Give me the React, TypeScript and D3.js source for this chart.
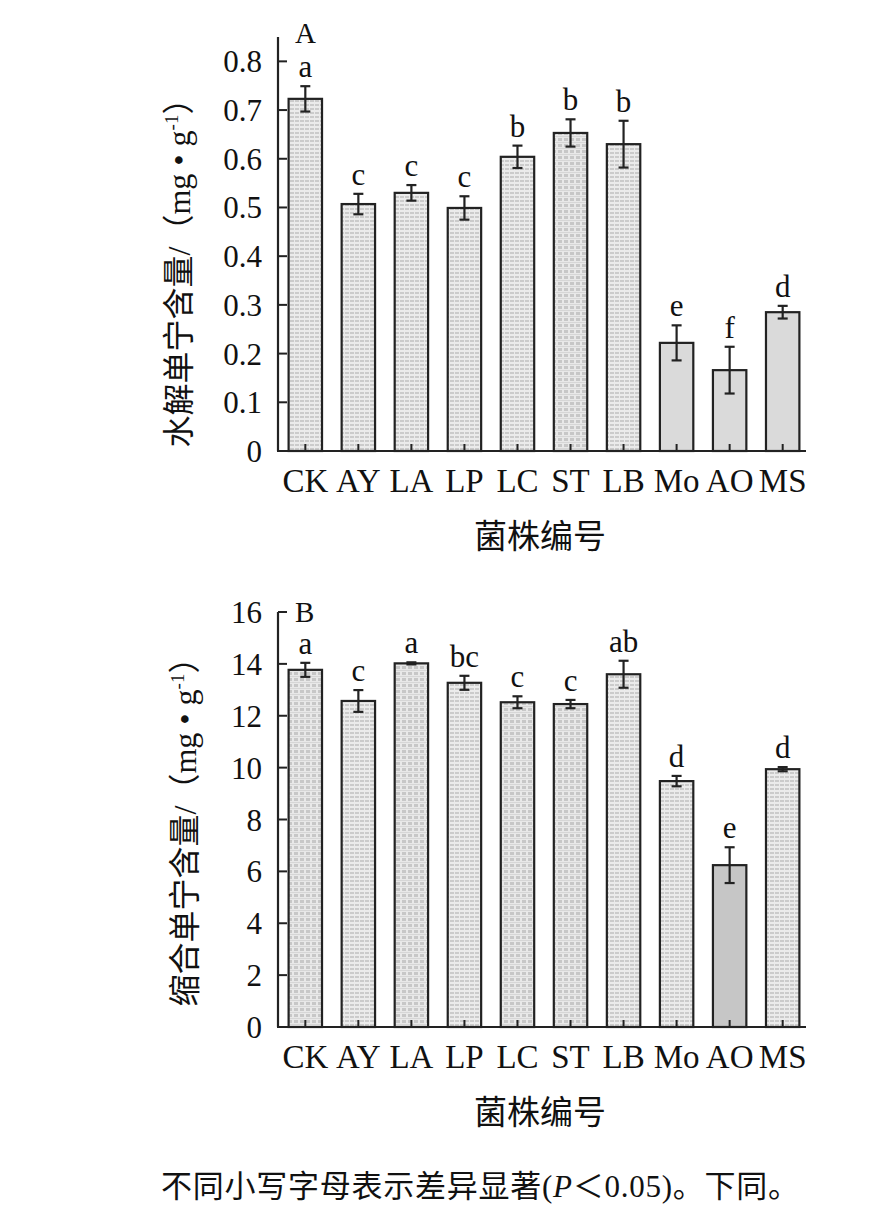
import * as d3 from "d3";

const strains = ["CK", "AY", "LA", "LP", "LC", "ST", "LB", "Mo", "AO", "MS"];

// 水解单宁 (mg·g-1)
const hydroMean = [0.723, 0.507, 0.53, 0.499, 0.604, 0.653, 0.63, 0.222, 0.166, 0.285];
const hydroErr = [0.026, 0.021, 0.016, 0.024, 0.023, 0.028, 0.048, 0.036, 0.048, 0.013];
const hydroSig = ["a", "c", "c", "c", "b", "b", "b", "e", "f", "d"];
const hydroTicks = [0, 0.1, 0.2, 0.3, 0.4, 0.5, 0.6, 0.7, 0.8];

// 缩合单宁 (mg·g-1)
const condMean = [13.77, 12.57, 14.02, 13.27, 12.52, 12.45, 13.6, 9.48, 6.24, 9.94];
const condErr = [0.27, 0.42, 0.04, 0.27, 0.23, 0.16, 0.52, 0.2, 0.69, 0.08];
const condSig = ["a", "c", "a", "bc", "c", "c", "ab", "d", "e", "d"];
const condTicks = [0, 2, 4, 6, 8, 10, 12, 14, 16];

const hydroFill = ["url(#pA)", "url(#pA)", "url(#pA)", "url(#pA)", "url(#pA)", "url(#pB)", "url(#pA)", "#dadada", "#dadada", "#dadada"];
const condFill = ["url(#pB)", "url(#pA)", "url(#pB)", "url(#pA)", "url(#pB)", "url(#pB)", "url(#pA)", "url(#pA)", "#c6c6c6", "url(#pA)"];

const FONT = "'Liberation Serif', 'Times New Roman', 'Noto Sans CJK SC', serif";

type PanelProps = {
  letter: string;
  title: string;
  mean: number[];
  err: number[];
  sig: string[];
  ticks: number[];
  yMax: number;
  yTop: number;
  yBottom: number;
  axisTop: number;
  letterY: number;
  fills: string[];
  titleX: number;
  titleY: number;
};

function Panel(p: PanelProps) {
  const left = 278;
  const x = d3.scaleBand<string>().domain(strains).range([left, 810]).paddingInner(0.37).paddingOuter(0.2);
  const y = d3.scaleLinear().domain([0, p.yMax]).range([p.yBottom, p.yTop]);
  const bw = x.bandwidth();
  const fmt = (v: number) => (Number.isInteger(v) ? String(v) : v.toFixed(1));
  return (
    <g fontFamily={FONT} fill="#111">
      {strains.map((s, i) => {
        const cx = (x(s) as number) + bw / 2;
        const top = y(p.mean[i]);
        const eTop = y(p.mean[i] + p.err[i]);
        const eBot = y(Math.max(0, p.mean[i] - p.err[i]));
        return (
          <g key={s}>
            <rect x={x(s)} y={top} width={bw} height={p.yBottom - top} fill={p.fills[i]} stroke="#222" strokeWidth={2.2} />
            <line x1={cx} x2={cx} y1={p.yBottom} y2={p.yBottom - 7} stroke="#222" strokeWidth={2} />
            <line x1={cx} x2={cx} y1={eTop} y2={eBot} stroke="#222" strokeWidth={2.2} />
            <line x1={cx - 5} x2={cx + 5} y1={eTop} y2={eTop} stroke="#222" strokeWidth={2.2} />
            <line x1={cx - 5} x2={cx + 5} y1={eBot} y2={eBot} stroke="#222" strokeWidth={2.2} />
            <text x={cx} y={eTop - 9} textAnchor="middle" fontSize={31}>{p.sig[i]}</text>
            <text x={cx} y={p.yBottom + 41} textAnchor="middle" fontSize={33}>{s}</text>
          </g>
        );
      })}
      <line x1={left} x2={left} y1={p.axisTop} y2={p.yBottom} stroke="#222" strokeWidth={2.2} />
      <line x1={left - 1} x2={806} y1={p.yBottom} y2={p.yBottom} stroke="#222" strokeWidth={2.2} />
      {p.ticks.map((t) => (
        <g key={t}>
          <line x1={left} x2={left + 9} y1={y(t)} y2={y(t)} stroke="#222" strokeWidth={2} />
          <text x={left - 16} y={y(t) + 11} textAnchor="end" fontSize={31}>{fmt(t)}</text>
        </g>
      ))}
      <text x={left + 17} y={p.letterY} fontSize={29}>{p.letter}</text>
      <text transform={`translate(${p.titleX},${p.titleY}) rotate(-90)`} textAnchor="middle" fontSize={32}>
        {p.title}/（mg • g<tspan dy={-12} fontSize={19}>-1</tspan><tspan dy={12}>）</tspan>
      </text>
      <text x={540} y={p.yBottom + 97} textAnchor="middle" fontSize={33}>菌株编号</text>
    </g>
  );
}

export default function App() {
  return (
    <svg width={896} height={1215} style={{ position: "absolute", left: 0, top: 0, background: "#fff" }}>
      <defs>
        <pattern id="pA" width={5} height={4} patternUnits="userSpaceOnUse">
          <rect width={5} height={4} fill="#ebebeb" />
          <rect x={0} y={0} width={4} height={2} fill="#cbcbcb" />
        </pattern>
        <pattern id="pB" width={6} height={6} patternUnits="userSpaceOnUse">
          <rect width={6} height={6} fill="#e8e8e8" />
          <rect x={0} y={0} width={4} height={3} fill="#c7c7c7" />
          <rect x={0} y={4} width={6} height={1} fill="#d6d6d6" />
        </pattern>
      </defs>
      <Panel letter="A" title="水解单宁含量" mean={hydroMean} err={hydroErr} sig={hydroSig} ticks={hydroTicks}
        yMax={0.85} yTop={37} yBottom={451} axisTop={37} letterY={43} fills={hydroFill} titleX={190} titleY={265} />
      <Panel letter="B" title="缩合单宁含量" mean={condMean} err={condErr} sig={condSig} ticks={condTicks}
        yMax={16} yTop={612} yBottom={1027} axisTop={612} letterY={622} fills={condFill} titleX={196} titleY={824} />
      <text x={161} y={1197} fontSize={31} fontFamily={FONT} fill="#111" textLength={638} lengthAdjust="spacing">
        不同小写字母表示差异显著(<tspan fontStyle="italic">P</tspan>＜0.05)。下同。
      </text>
    </svg>
  );
}
